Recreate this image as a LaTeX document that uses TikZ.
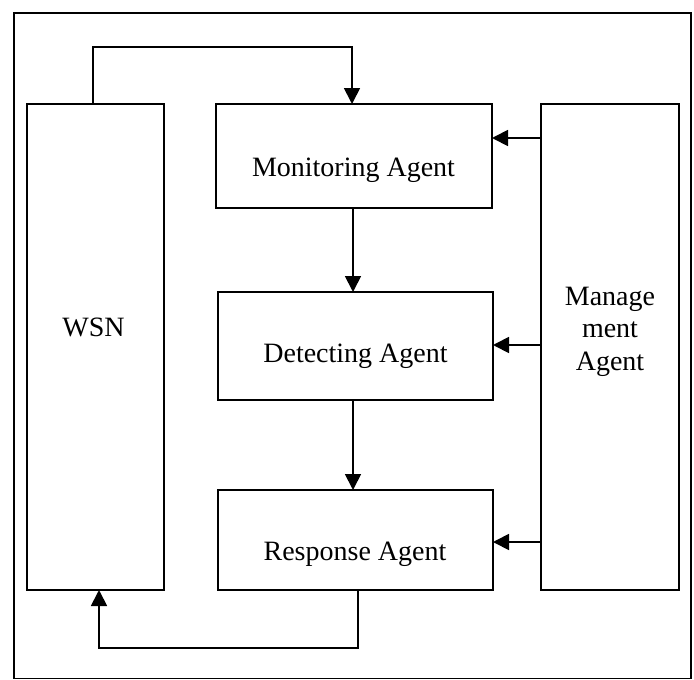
\documentclass[tikz,border=0pt]{standalone}
\usepackage{fontspec}
\setmainfont{Liberation Serif}
\usetikzlibrary{arrows.meta}
\begin{document}
\begin{tikzpicture}[x=1pt,y=-1pt,
  box/.style={draw,line width=1.8pt,rectangle,inner sep=0pt,outer sep=0pt},
  lbl/.style={anchor=base,inner sep=0pt,font=\fontsize{28}{32.5}\selectfont},
  arr/.style={line width=1.8pt,-{Triangle[width=16pt,length=16pt]}},
  conn/.style={line width=1.8pt}]
\useasboundingbox (0,0) rectangle (694,680);
\draw[line width=1.8pt] (14,13) rectangle (691,678.5);
\node[box,minimum width=137pt,minimum height=486pt] (wsn) at (95.5,347) {};
\node[box,minimum width=276pt,minimum height=104pt] (mon) at (354,156) {};
\node[box,minimum width=275pt,minimum height=108pt] (det) at (355.5,346) {};
\node[box,minimum width=275pt,minimum height=100pt] (resp) at (355.5,540) {};
\node[box,minimum width=138pt,minimum height=486pt] (mgmt) at (610,347) {};
\node[lbl] (twsn) at (93.5,336) {WSN};
\node[lbl] (tmon) at (353.5,176) {Monitoring Agent};
\node[lbl] (tdet) at (355.5,362) {Detecting Agent};
\node[lbl] (tresp) at (355,560) {Response Agent};
\node[lbl] (tm1) at (610,305) {Manage};
\node[lbl] (tm2) at (610,337.5) {ment};
\node[lbl] (tm3) at (610,370) {Agent};
% feedback WSN -> Monitoring
\draw[arr] ([xshift=-2.5pt]wsn.north) -- ++(0,-57) -| ([xshift=-2pt]mon.north);
% chain
\draw[arr] ([xshift=-1pt]mon.south) -- ([xshift=-1pt]mon.south |- det.north);
\draw[arr] ([xshift=-2.5pt]det.south) -- ([xshift=-2.5pt]det.south |- resp.north);
% response -> WSN
\draw[arr] ([xshift=2.5pt]resp.south) -- ++(0,58) -| ([xshift=3.5pt]wsn.south);
% management arrows
\coordinate (m1) at ([yshift=18pt]mon.east);
\coordinate (m2) at ([yshift=1pt]det.east);
\coordinate (m3) at ([yshift=-2pt]resp.east);
\draw[arr] (mgmt.west |- m1) -- (m1);
\draw[arr] (mgmt.west |- m2) -- (m2);
\draw[arr] (mgmt.west |- m3) -- (m3);
\end{tikzpicture}
\end{document}
